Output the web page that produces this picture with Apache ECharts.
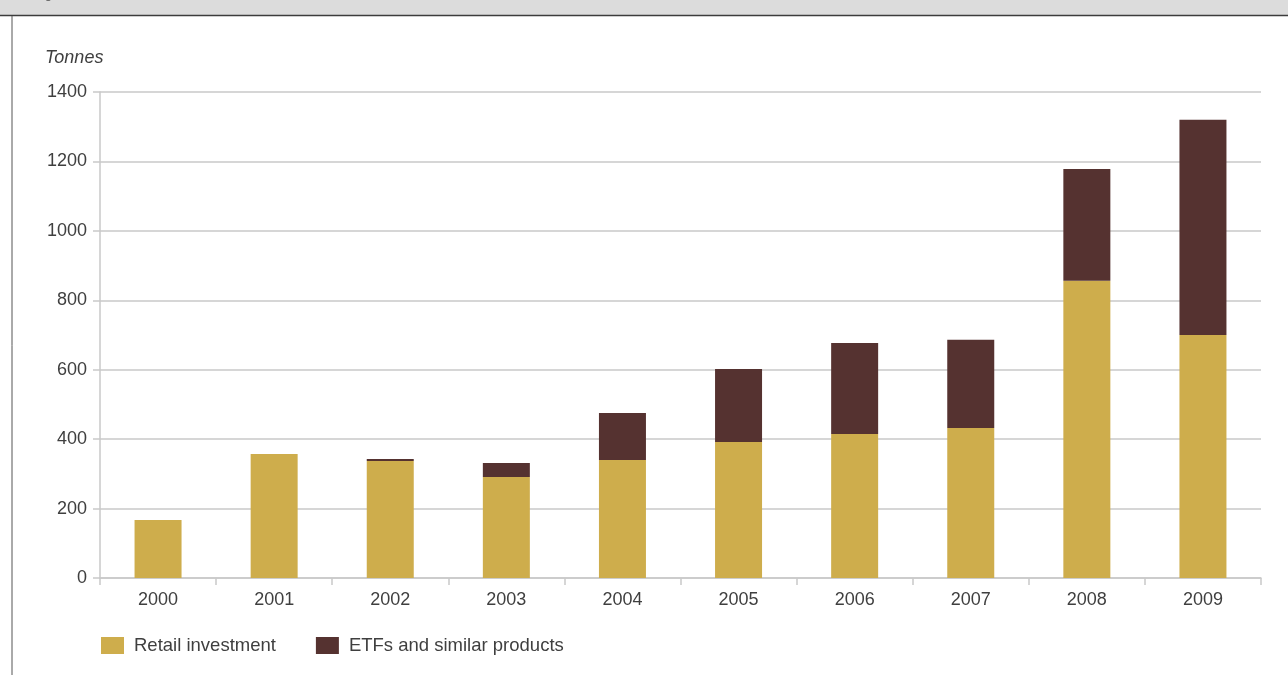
<!DOCTYPE html>
<html>
<head>
<meta charset="utf-8">
<title>Gold investment demand</title>
<script src="https://cdn.jsdelivr.net/npm/echarts@6/dist/echarts.min.js"></script>
<style>
  html, body { margin: 0; padding: 0; background: #ffffff; }
  #chart { width: 1288px; height: 675px; }
</style>
</head>
<body>
<div id="chart"></div>
<script>
// Annual investment demand, tonnes
const years = ['2000', '2001', '2002', '2003', '2004', '2005', '2006', '2007', '2008', '2009'];
const retailInvestment = [167, 357, 337, 291, 340, 392, 415, 432, 856, 700];
const etfProducts = [0, 0, 6, 40, 135, 210, 262, 254, 322, 620];
const yTicks = { min: 0, max: 1400, step: 200 };

const FONT = '"Liberation Sans", Arial, sans-serif';
const TEXT = '#3f3f3f';
const RULE = '#c9c9c9';

const chart = echarts.init(document.getElementById('chart'), null, { renderer: 'canvas' });

chart.setOption({
  backgroundColor: '#ffffff',
  animation: false,
  textStyle: { fontFamily: FONT },
  graphic: [
    // header band and frame
    { type: 'rect', shape: { x: 0, y: 0, width: 1288, height: 15 }, style: { fill: '#dcdcdc' }, silent: true },
    { type: 'line', shape: { x1: 0, y1: 15.5, x2: 1288, y2: 15.5 }, style: { stroke: '#3c3c3c', lineWidth: 1.5 }, silent: true },
    { type: 'line', shape: { x1: 12, y1: 16, x2: 12, y2: 675 }, style: { stroke: '#555555', lineWidth: 1 }, silent: true },
    { type: 'text', left: 34, top: -12, style: { text: 'Figure', font: '13px ' + FONT, fill: '#555555' }, silent: true },
    // unit label
    { type: 'text', left: 45, top: 49, style: { text: 'Tonnes', font: 'italic 18px ' + FONT, fill: TEXT }, silent: true }
  ],
  legend: {
    left: 96,
    top: 631,
    itemWidth: 23,
    itemHeight: 17,
    itemGap: 40,
    icon: 'rect',
    textStyle: { fontSize: 18.5, color: TEXT, fontFamily: FONT, padding: [0, 0, 0, 5] },
    data: ['Retail investment', 'ETFs and similar products']
  },
  grid: { left: 100, right: 27, top: 92, bottom: 97, containLabel: false },
  xAxis: {
    type: 'category',
    data: years,
    boundaryGap: true,
    axisLine: { show: true, lineStyle: { color: RULE, width: 1.5 } },
    axisTick: { show: true, length: 7, alignWithLabel: false, lineStyle: { color: RULE, width: 1.5 } },
    axisLabel: { color: TEXT, fontSize: 18, margin: 13, fontFamily: FONT },
    splitLine: { show: false }
  },
  yAxis: {
    type: 'value',
    min: yTicks.min,
    max: yTicks.max,
    interval: yTicks.step,
    axisLine: { show: true, lineStyle: { color: RULE, width: 1.5 } },
    axisTick: { show: true, length: 7, lineStyle: { color: RULE, width: 1.5 } },
    axisLabel: { color: TEXT, fontSize: 18, margin: 13, fontFamily: FONT, formatter: (v) => String(v) },
    splitLine: { show: true, lineStyle: { color: RULE, width: 1.5 } }
  },
  series: [
    {
      name: 'Retail investment',
      type: 'bar',
      stack: 'total',
      barWidth: 47,
      itemStyle: { color: '#cead4c' },
      data: retailInvestment
    },
    {
      name: 'ETFs and similar products',
      type: 'bar',
      stack: 'total',
      barWidth: 47,
      itemStyle: { color: '#553230' },
      data: etfProducts
    }
  ]
});
</script>
</body>
</html>
